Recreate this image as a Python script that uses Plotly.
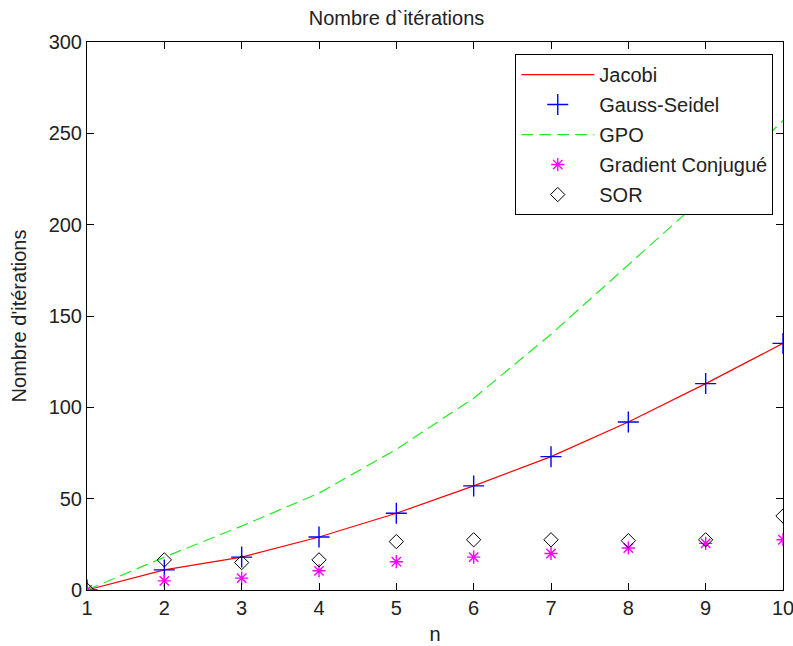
import plotly.graph_objects as go

n = [1, 2, 3, 4, 5, 6, 7, 8, 9, 10]
jacobi = [0, 11, 18, 29, 42, 57, 73, 92, 113, 135]
gauss_seidel = [0, 11, 18, 29, 42, 57, 73, 92, 113, 135]
gpo = [0, 18, 35, 53, 77, 105, 140, 178, 216, 257]
gradient = [0, 5, 6.5, 10.5, 15.5, 18, 20, 23, 25.5, 27.5]
sor = [0, 16.5, 15, 16.5, 26.5, 27.5, 27.5, 27, 27.5, 40.5]

x_ticks = list(range(1, 11))
y_ticks = [0, 50, 100, 150, 200, 250, 300]

FONT = "Liberation Sans, Arial, sans-serif"
FS = 20
TXT = "#222222"

fig = go.Figure()
fig.add_trace(go.Scatter(x=n, y=jacobi, mode="lines", name="Jacobi", legendgroup="a",
                         line=dict(color="#ff0000", width=1.2)))
fig.add_trace(go.Scatter(x=n, y=gauss_seidel, mode="markers", name="Gauss-Seidel", legendgroup="b",
                         marker=dict(symbol="cross-thin", size=15, color="#0000ff",
                                     line=dict(color="#0000ff", width=1.4))))
fig.add_trace(go.Scatter(x=n, y=gpo, mode="lines", name="GPO", legendgroup="c",
                         line=dict(color="#22ee22", width=1.2, dash="12px,6px")))
fig.add_trace(go.Scatter(x=n, y=gradient, mode="markers", name="Gradient Conjugué", legendgroup="d",
                         marker=dict(symbol="asterisk-open", size=11, color="#ff00ff",
                                     line=dict(color="#ff00ff", width=1.4))))
fig.add_trace(go.Scatter(x=n, y=sor, mode="markers", name="SOR", legendgroup="e",
                         marker=dict(symbol="diamond-open", size=11, color="#000000",
                                     line=dict(color="#000000", width=1))))

axis_common = dict(showgrid=False, zeroline=False, showline=True, linecolor="black",
                   linewidth=1, mirror="ticks", ticks="inside", ticklen=7,
                   tickcolor="black", ticklabeloverflow="allow", automargin=False,
                   tickfont=dict(family=FONT, size=FS, color=TXT))

fig.update_layout(
    width=793, height=646,
    margin=dict(l=87, r=10, t=42, b=56, autoexpand=False),
    paper_bgcolor="white", plot_bgcolor="white",
    title=dict(text="Nombre d`itérations", x=0.5, xanchor="center", y=0.972, yanchor="middle",
               font=dict(family=FONT, size=FS, color=TXT)),
    xaxis=dict(range=[1, 10], tickvals=x_ticks,
               title=dict(text="n", font=dict(family=FONT, size=FS, color=TXT), standoff=8),
               **axis_common),
    yaxis=dict(range=[0, 300], tickvals=y_ticks,
               title=dict(text="Nombre d'itérations", font=dict(family=FONT, size=FS, color=TXT), standoff=16),
               **axis_common),
    legend=dict(x=0.986, xanchor="right", y=0.978, yanchor="top",
                bordercolor="black", borderwidth=1, bgcolor="white",
                font=dict(family=FONT, size=FS, color=TXT),
                itemwidth=73, tracegroupgap=1),
    showlegend=True,
)

fig.write_html("out.html")
